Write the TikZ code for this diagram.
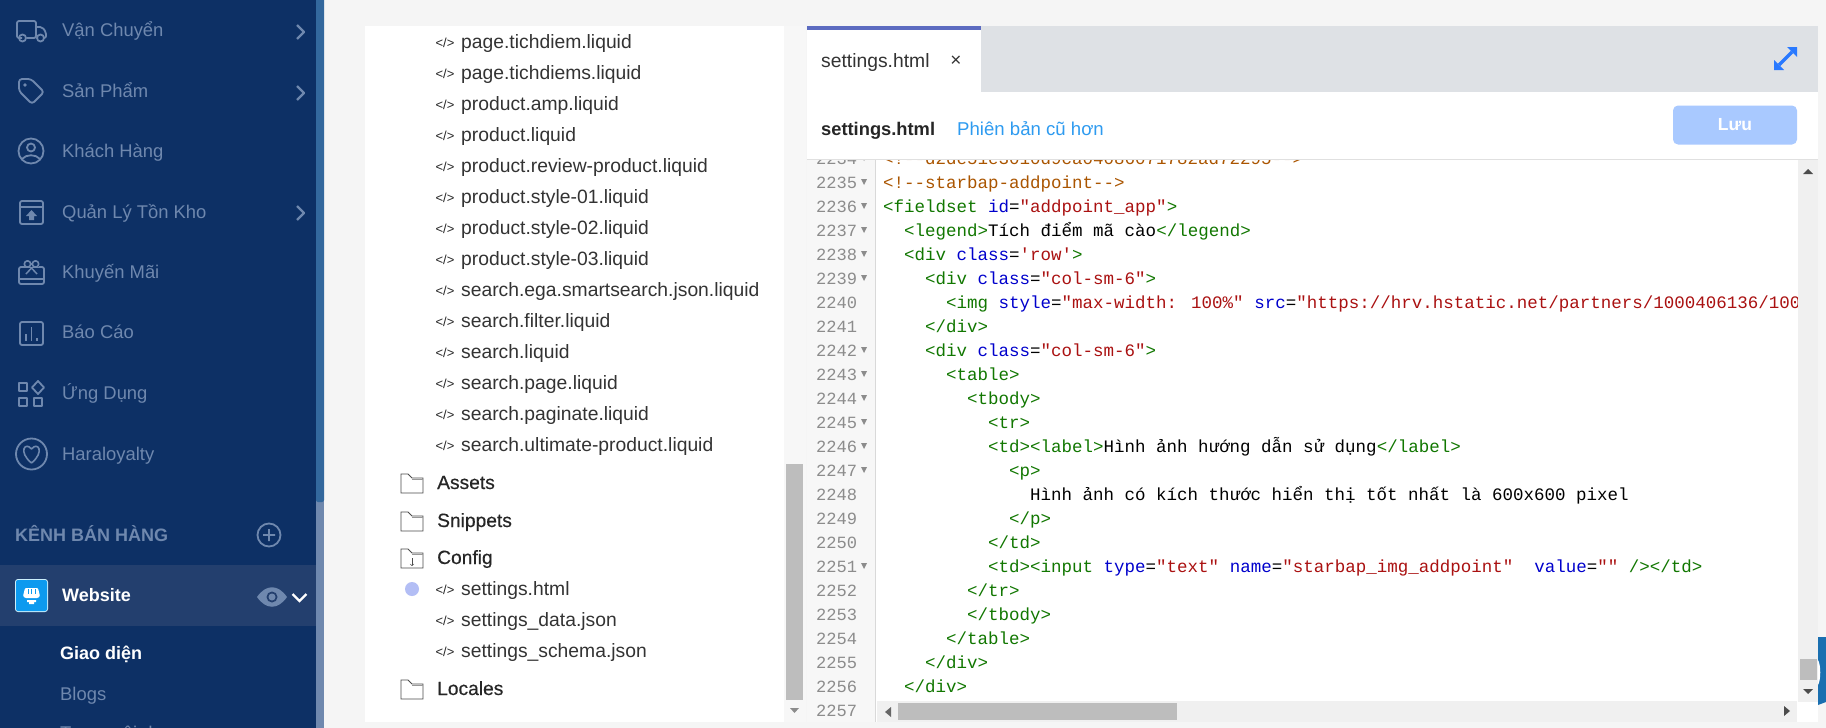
\documentclass[tikz,border=0pt]{standalone}
\usepackage{fontspec}
\setmainfont{Liberation Sans}
\newfontfamily\codefont{Liberation Mono}
\newfontfamily\medfont[FakeBold=0.4]{Liberation Sans}
\definecolor{navy}{HTML}{0D3065}
\definecolor{navyrow}{HTML}{233F6E}
\definecolor{muted}{HTML}{6F88AE}
\definecolor{stripblue}{HTML}{33689D}
\definecolor{pagebg}{HTML}{F5F5F5}
\definecolor{tabbg}{HTML}{DEE1E5}
\definecolor{tabbar}{HTML}{5C6BC0}
\definecolor{gutterbg}{HTML}{F7F7F7}
\definecolor{trackbg}{HTML}{F0F0F0}
\definecolor{thumbbg}{HTML}{BDBDBD}
\definecolor{storeblue}{HTML}{0D9AEF}
\definecolor{dotblue}{HTML}{B3BEF5}
\definecolor{linkblue}{HTML}{2E9BF0}
\definecolor{saveblue}{HTML}{A9C9FF}
\definecolor{expandblue}{HTML}{2979FF}
\definecolor{edgeblue}{HTML}{1A6FB0}
\definecolor{codetag}{HTML}{117700}
\definecolor{codeatt}{HTML}{0000CC}
\definecolor{codestr}{HTML}{AA1111}
\definecolor{codecom}{HTML}{AA5500}
\newcommand{\tagc}[1]{\textcolor{codetag}{#1}}
\newcommand{\attc}[1]{\textcolor{codeatt}{#1}}
\newcommand{\strc}[1]{\textcolor{codestr}{#1}}
\tikzset{
	sidetext/.style = {anchor = base west, inner sep = 0pt, text = muted, font = \fontsize{18.4}{20}\selectfont},
	sidebold/.style = {sidetext, font = \bfseries\fontsize{18}{20}\selectfont},
	sideicon/.style = {draw = muted, line width = 1.8pt, line join = round},
	filetext/.style = {anchor = base west, inner sep = 0pt, text = black!80, font = \fontsize{19.3}{22}\selectfont},
	foldertext/.style = {anchor = base west, inner sep = 0pt, text = black!85, font = \medfont\fontsize{19.2}{22}\selectfont},
	fileicon/.style = {anchor = center, inner sep = 0pt, text = black!85, font = \fontsize{13}{14}\selectfont},
	codetext/.style = {anchor = base west, inner sep = 0pt, font = \codefont\fontsize{17.5}{20}\selectfont},
	linenum/.style = {anchor = base west, inner sep = 0pt, text = black!45, font = \codefont\fontsize{17.1}{20}\selectfont}
}
\begin{document}
\begin{tikzpicture}[x = 1pt, y = -1pt]
	\useasboundingbox (0, 0) rectangle (1826, 728);
	\fill[pagebg] (0, 0) rectangle (1826, 728);
	% sidebar
	\fill[navy] (0, 0) rectangle (316, 728);
	\fill[muted] (316, 0) rectangle (324, 728);
	\fill[stripblue, rounded corners = 2pt] (316, -5) rectangle (324, 502);
	\fill[navyrow] (0, 565) rectangle (316, 626);
	\foreach \y/\name/\txt in {36/van/{Vận Chuyển}, 97/san/{Sản Phẩm}, 157/khach/{Khách Hàng}, 218/kho/{Quản Lý Tồn Kho}, 278/km/{Khuyến Mãi}, 338/bc/{Báo Cáo}, 399/app/{Ứng Dụng}, 460/hara/{Haraloyalty}}
		\node[sidetext] (side\name) at (62, \y) {\txt};
	\foreach \y in {32, 93, 213}
		\draw[sideicon, line width = 2.2pt] (297, \y - 7) -- (304, \y) -- (297, \y + 7);
	% truck
	\draw[sideicon, rounded corners = 2pt] (22, 38) -- (17, 38) -- (17, 21) -- (36, 21) -- (36, 38) -- (27, 38);
	\draw[sideicon, rounded corners = 2pt] (36, 27) -- (42, 27) -- (46, 32) -- (46, 38) -- (44, 38);
	\draw[sideicon] (22.5, 38) circle (3.5) (40.5, 38) circle (3.5);
	% tag
	\draw[sideicon, rounded corners = 3pt] (19, 79) -- (31, 79) -- (44, 92) -- (32, 104) -- (19, 91) -- cycle;
	\fill[muted] (25, 85) circle (1.8);
	% person
	\draw[sideicon] (31, 151) circle (12.5) (31, 147.5) circle (4);
	\draw[sideicon] (22, 159) .. controls (26, 154) and (36, 154) .. (40, 159);
	% box
	\draw[sideicon, rounded corners = 2pt] (20, 201) rectangle (43, 224);
	\draw[sideicon] (20, 207) -- (43, 207);
	\fill[muted] (31.5, 210) -- (37, 216) -- (34, 216) -- (34, 220) -- (29, 220) -- (29, 216) -- (26, 216) -- cycle;
	% gift
	\draw[sideicon, rounded corners = 2pt] (19, 267) rectangle (44, 284);
	\draw[sideicon, line width = 2.6pt] (19, 279) -- (44, 279);
	\draw[sideicon, line width = 1.5pt] (26, 274) -- (31.5, 268) -- (37, 274);
	\fill[navy] (25, 260) rectangle (39, 266.5);
	\draw[sideicon, line width = 1.6pt] (27.5, 264) circle (3.2) (35.5, 264) circle (3.2);
	% chart
	\draw[sideicon, rounded corners = 2pt] (20, 322) rectangle (43, 345);
	\draw[sideicon] (26, 341) -- (26, 334) (31.5, 341) -- (31.5, 327) (37, 341) -- (37, 338);
	% apps
	\draw[sideicon] (19, 383) rectangle (27, 391) (19, 398) rectangle (27, 406) (34, 398) rectangle (42, 406);
	\draw[sideicon] (38, 381) -- (44, 387.5) -- (38, 394) -- (32, 387.5) -- cycle;
	% heart
	\draw[sideicon] (31.5, 454) circle (15.5);
	\draw[sideicon, line width = 1.6pt] (31.5, 463) .. controls (18, 452) and (25, 441) .. (31.5, 449) .. controls (38, 441) and (45, 452) .. (31.5, 463);
	% sales channels
	\node[sidebold] (sidechannel) at (15, 541) {KÊNH BÁN HÀNG};
	\draw[sideicon] (269, 535) circle (11.5) (263, 535) -- (275, 535) (269, 529) -- (269, 541);
	\fill[cyan!20!white, rounded corners = 3pt] (15, 579) rectangle (48, 612);
	\fill[storeblue, rounded corners = 2pt] (16, 580) rectangle (47, 611);
	\fill[white, rounded corners = 1pt] (25, 588) -- (38, 588) -- (40, 596) -- (38, 598) -- (25, 598) -- (23, 596) -- cycle;
	\fill[white] (27, 600) rectangle (36, 602) (29, 602) rectangle (34, 604);
	\foreach \x in {28, 31.5, 35}
		\draw[storeblue, line width = 0.7pt] (\x, 589) -- (\x, 594);
	\node[sidebold, text = white] (sideweb) at (62, 601) {Website};
	\fill[muted] (257, 597) .. controls (266, 584) and (278, 584) .. (287, 597) .. controls (278, 610) and (266, 610) .. (257, 597) -- cycle;
	\fill[navyrow] (272, 597) circle (5.5);
	\fill[muted] (272, 597) circle (3.5);
	\draw[white, line width = 2.2pt] (292.5, 594) -- (299.5, 601) -- (306.5, 594);
	\node[sidebold, text = white] (sidegiao) at (60, 659) {Giao diện};
	\node[sidetext] (sideblog) at (60, 700) {Blogs};
	\node[sidetext] (sidetrang) at (60, 739) {Trang nội dung};
	% file tree
	\fill[white] (365, 26) rectangle (784, 722);
	\fill[gutterbg] (784, 26) rectangle (806, 722);
	\fill[thumbbg] (786, 464) rectangle (803, 700);
	\fill[black!45] (790, 708) -- (799, 708) -- (794.5, 713) -- cycle;
	\foreach \y/\name/\txt in {48/a/page.tichdiem.liquid, 79/b/page.tichdiems.liquid, 110/c/product.amp.liquid, 141/d/product.liquid, 172/e/product.review-product.liquid, 203/f/product.style-01.liquid, 234/g/product.style-02.liquid, 265/h/product.style-03.liquid, 296/i/search.ega.smartsearch.json.liquid, 327/j/search.filter.liquid, 358/k/search.liquid, 389/l/search.page.liquid, 420/m/search.paginate.liquid, 451/n/search.ultimate-product.liquid, 595/o/settings.html, 626/p/settings\_data.json, 657/q/settings\_schema.json} {
		\node[fileicon] (icon\name) at (445, \y - 5.5) {</>};
		\node[filetext] (file\name) at (461, \y) {\txt};
	}
	\foreach \y/\name/\txt in {489/assets/Assets, 527/snippets/Snippets, 564/config/Config, 695/locales/Locales} {
		\node[foldertext] (folder\name) at (437, \y) {\txt};
		\draw[black!70, line width = 0.8pt] (401, \y - 15) -- (408, \y - 15) -- (412, \y - 11) -- (423, \y - 11) -- (423, \y + 4) -- (401, \y + 4) -- cycle;
		\draw[black!40, line width = 0.6pt] (412, \y - 9.5) -- (423, \y - 9.5);
	}
	\draw[black!70, line width = 0.6pt, ->, >=to] (412, 558) -- (412, 566);
	\fill[dotblue] (412, 589) circle (7);
	% editor, code first so that the bars cover it
	\fill[white] (807, 160) rectangle (1818, 722);
	\fill[gutterbg] (807, 160) rectangle (875, 722);
	\draw[black!15, line width = 1pt] (875.5, 160) -- (875.5, 722);
	\foreach \n [evaluate = \n as \y using int(188 + 24 * (\n - 2235))] in {2234, 2235, ..., 2257}
		\node[linenum] (num\n) at (816, \y) {\n};
	\foreach \n [evaluate = \n as \y using int(182 + 24 * (\n - 2235))] in {2234, 2235, 2236, 2237, 2238, 2239, 2242, 2243, 2244, 2245, 2246, 2247, 2251}
		\fill[black!45] (861, \y - 3) -- (867, \y - 3) -- (864, \y + 3) -- cycle;
	\foreach \n/\ind/\txt in {
		2234/0/{\textcolor{codecom}{<!--d2de51e3010d9ca04086071782ad72295-->}},
		2235/0/{\textcolor{codecom}{<!--starbap-addpoint-->}},
		2236/0/{\tagc{<fieldset} \attc{id}=\strc{"addpoint\_app"}\tagc{>}},
		2237/2/{\tagc{<legend>}Tích điểm mã cào\tagc{</legend>}},
		2238/2/{\tagc{<div} \attc{class}=\strc{'row'}\tagc{>}},
		2239/4/{\tagc{<div} \attc{class}=\strc{"col-sm-6"}\tagc{>}},
		2240/6/{\tagc{<img} \attc{style}=\strc{"max-width: 100\%"} \attc{src}=\strc{"https://hrv.hstatic.net/partners/1000406136/1000}},
		2241/4/{\tagc{</div>}},
		2242/4/{\tagc{<div} \attc{class}=\strc{"col-sm-6"}\tagc{>}},
		2243/6/{\tagc{<table>}},
		2244/8/{\tagc{<tbody>}},
		2245/10/{\tagc{<tr>}},
		2246/10/{\tagc{<td><label>}Hình ảnh hướng dẫn sử dụng\tagc{</label>}},
		2247/12/{\tagc{<p>}},
		2248/14/{Hình ảnh có kích thước hiển thị tốt nhất là 600x600 pixel},
		2249/12/{\tagc{</p>}},
		2250/10/{\tagc{</td>}},
		2251/10/{\tagc{<td><input} \attc{type}=\strc{"text"} \attc{name}=\strc{"starbap\_img\_addpoint"}\ \ \attc{value}=\strc{""} \tagc{/></td>}},
		2252/8/{\tagc{</tr>}},
		2253/8/{\tagc{</tbody>}},
		2254/6/{\tagc{</table>}},
		2255/4/{\tagc{</div>}},
		2256/2/{\tagc{</div>}}
	}
		\node[codetext] (code\n) at ({883 + 10.5 * \ind}, {188 + 24 * (\n - 2235)}) {\txt};
	% tab strip and header
	\fill[tabbg] (807, 26) rectangle (1818, 92);
	\fill[white] (807, 92) rectangle (1818, 159);
	\fill[white] (807, 26) rectangle (981, 92);
	\fill[tabbar] (807, 26) rectangle (981, 30);
	\fill[black!12] (807, 158.5) rectangle (1818, 160);
	\node[filetext] (tabname) at (821, 67) {settings.html};
	\node[filetext, anchor = center, font = \fontsize{19}{20}\selectfont] (tabclose) at (956, 61) {×};
	\node[filetext, text = black!85, font = \bfseries\fontsize{18.3}{20}\selectfont] (headname) at (821, 135) {settings.html};
	\node[filetext, text = linkblue, font = \fontsize{18.6}{20}\selectfont] (headold) at (957, 135) {Phiên bản cũ hơn};
	\node[anchor = center, fill = saveblue, rounded corners = 5pt, minimum width = 124pt, minimum height = 39pt, inner sep = 0pt, text = white, font = \bfseries\fontsize{17.5}{20}\selectfont] (save) at (1735, 125) {Lưu};
	\draw[expandblue, line width = 3.5pt] (1779, 65) -- (1792, 52);
	\fill[expandblue] (1797, 47) -- (1797, 57) -- (1787, 47) -- cycle (1774, 70) -- (1774, 60) -- (1784, 70) -- cycle;
	% scrollbars
	\fill[trackbg] (1798, 160) rectangle (1818, 702);
	\fill[black!70] (1803, 174) -- (1813, 174) -- (1808, 169) -- cycle;
	\fill[thumbbg] (1800, 659) rectangle (1817, 680);
	\fill[black!70] (1803, 689) -- (1813, 689) -- (1808, 694) -- cycle;
	\fill[trackbg] (877, 701) rectangle (1797, 722);
	\fill[white] (1797, 702) rectangle (1818, 722);
	\fill[black!60] (891, 707) -- (891, 717) -- (885, 712) -- cycle;
	\fill[thumbbg] (898, 703) rectangle (1177, 720);
	\fill[black!70] (1784, 706) -- (1784, 716) -- (1790, 711) -- cycle;
	% blue edge at the right
	\fill[edgeblue] (1818, 637) -- (1826, 637) -- (1826, 702) -- (1818, 705) -- cycle;
	\fill[white] (1818, 660) .. controls (1821, 665) and (1821, 680) .. (1818, 685) -- cycle;
\end{tikzpicture}
\end{document}
